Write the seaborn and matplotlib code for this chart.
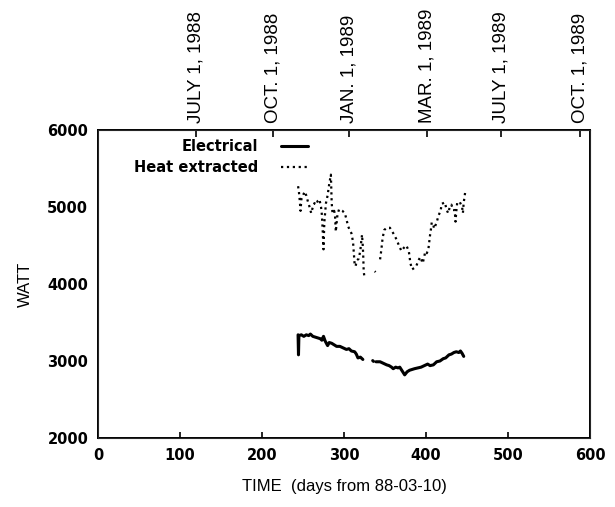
import pandas as pd
import matplotlib
matplotlib.use("Agg")
import matplotlib.pyplot as plt
import seaborn as sns

# --- data ------------------------------------------------------------------
# Electrical power (solid line); run id marks the gaps in the record
elec_day = [244, 244.5, 245, 248, 251, 254, 257, 259, 262, 265, 268, 271, 273,
            275, 277, 280, 282, 285, 288, 291, 295, 299, 303, 306, 309, 313,
            315, 317, 320, 323,
            335, 336,
            339, 344, 348, 352, 355, 358, 360, 363, 366, 368, 371, 374, 377,
            380, 383, 386, 390, 394, 398, 402, 405, 409, 413, 417, 421, 424,
            428, 431, 434, 437, 440, 442, 444, 446]
elec_watt = [3340, 3080, 3330, 3340, 3320, 3340, 3330, 3350, 3320, 3310, 3300,
             3290, 3270, 3320, 3260, 3200, 3240, 3230, 3210, 3190, 3190, 3170,
             3150, 3160, 3130, 3120, 3090, 3040, 3050, 3020,
             3005, 2995,
             2990, 2990, 2970, 2950, 2940, 2920, 2900, 2920, 2910, 2920, 2870,
             2820, 2860, 2880, 2890, 2900, 2910, 2920, 2940, 2960, 2940, 2950,
             2990, 3000, 3030, 3040, 3080, 3090, 3110, 3120, 3110, 3130, 3100,
             3060]
elec_run = [0] * 30 + [1] * 2 + [2] * 34

# Heat extracted (dotted line)
heat_day = [244, 245, 246, 247, 248, 250, 252, 254, 256, 258, 260, 262, 264,
            266, 268, 270, 272, 273, 274, 275, 276, 278, 280, 282, 284, 285,
            286, 288, 289, 290, 292, 294, 296, 298, 301, 303, 305, 307, 309,
            311, 312, 313, 314, 316, 318, 320, 321, 322, 323, 323.5, 324, 325,
            337.5, 338.5,
            344, 345, 346, 347, 349, 352, 356, 360, 364, 367, 370, 373, 376,
            379, 380, 381, 383, 386, 388, 391, 393, 396, 398, 399, 401, 403,
            404, 405, 406, 407, 409, 410, 413, 415, 418, 419, 421, 423, 425,
            427, 429, 431, 433, 435, 436, 437, 438, 441, 444, 445, 446, 447,
            448]
heat_watt = [5270, 5200, 5090, 4950, 5100, 5150, 5200, 5150, 5070, 5000, 4920,
             5000, 5050, 5030, 5080, 5100, 5000, 4900, 4700, 4450, 4800, 5050,
             5150, 5300, 5420, 5050, 4920, 4950, 4900, 4680, 4900, 4970, 4960,
             4950, 4920, 4840, 4750, 4700, 4660, 4550, 4400, 4250, 4230, 4310,
             4330, 4440, 4550, 4640, 4480, 4350, 4170, 4080,
             4165, 4155,
             4320, 4400, 4490, 4590, 4700, 4730, 4730, 4660, 4580, 4500, 4430,
             4470, 4500, 4430, 4350, 4270, 4190, 4210, 4230, 4310, 4350, 4270,
             4360, 4420, 4400, 4460, 4550, 4640, 4710, 4800, 4760, 4720, 4800,
             4880, 4960, 5040, 5050, 5060, 4970, 4920, 5000, 5030, 4960, 4960,
             4810, 4950, 5050, 5070, 5000, 4920, 5060, 5130, 5210]
heat_run = [0] * 52 + [1] * 2 + [2] * 53

x_ticks = [0, 100, 200, 300, 400, 500, 600]
y_ticks = [2000, 3000, 4000, 5000, 6000]
date_pos = [120, 213, 306, 401, 491, 588]
date_labels = ["JULY 1, 1988", "OCT. 1, 1988", "JAN. 1, 1989",
               "MAR. 1, 1989", "JULY 1, 1989", "OCT. 1, 1989"]

elec = pd.DataFrame({"day": elec_day, "watt": elec_watt, "run": elec_run})
heat = pd.DataFrame({"day": heat_day, "watt": heat_watt, "run": heat_run})

# --- plot -------------------------------------------------------------------
sns.set_style("white")
plt.rcParams["font.family"] = ["Liberation Sans", "DejaVu Sans"]
plt.rcParams["text.color"] = "black"
plt.rcParams["axes.labelcolor"] = "black"
plt.rcParams["xtick.color"] = "black"
plt.rcParams["ytick.color"] = "black"

fig = plt.figure(figsize=(6.15, 5.07), dpi=100)
ax = fig.add_axes([98 / 615, 1 - 438 / 507, 492 / 615, 308 / 507])

sns.lineplot(data=elec, x="day", y="watt", units="run", estimator=None,
             color="black", lw=2.2, ax=ax, sort=False)
sns.lineplot(data=heat, x="day", y="watt", units="run", estimator=None,
             color="black", lw=1.6, ls=":", ax=ax, sort=False)

ax.set_xlim(0, 600)
ax.set_ylim(2000, 6000)
ax.set_xticks(x_ticks)
ax.set_yticks(y_ticks)
ax.tick_params(direction="in", length=4, width=1.2, pad=7, labelsize=10.5)
for t in ax.get_xticklabels() + ax.get_yticklabels():
    t.set_fontfamily("DejaVu Sans")
    t.set_fontweight("bold")
ax.set_xlabel("TIME  (days from 88-03-10)", fontsize=12, labelpad=12)
ax.set_ylabel("WATT", fontsize=12, labelpad=10)
for s in ax.spines.values():
    s.set_visible(True)
    s.set_color("black")
    s.set_linewidth(1.4)

# one legend entry per series (first line of each)
n_elec = len(set(elec_run))
handles = [ax.lines[0], ax.lines[n_elec]]
leg = ax.legend(handles, ["Electrical", "Heat extracted"],
                loc="upper left", bbox_to_anchor=(0.055, 1.0), frameon=False,
                markerfirst=False, handlelength=1.85, handletextpad=1.6,
                labelspacing=0.45, borderaxespad=0.2,
                prop={"family": "DejaVu Sans", "weight": "bold", "size": 10.5})

# dates along the top
top = ax.twiny()
top.set_xlim(ax.get_xlim())
top.set_xticks(date_pos)
top.set_xticklabels(date_labels, rotation=90, fontsize=13.5)
top.tick_params(direction="in", length=5, width=1.2, pad=5)
top.grid(False)

fig.savefig("out.png", dpi=100)
